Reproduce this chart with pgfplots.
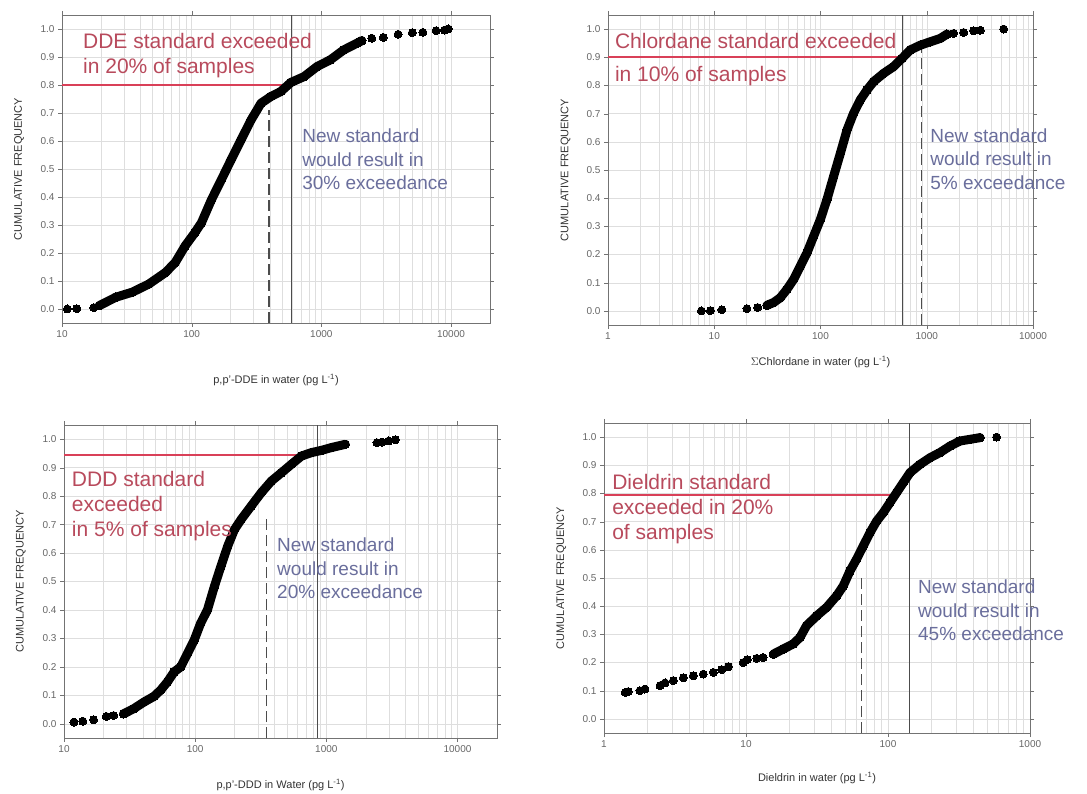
\documentclass[border=0pt]{standalone}
\usepackage{fontspec}
\setmainfont{Liberation Sans}
\usepackage{pgfplots}
\pgfplotsset{compat=1.18}

\definecolor{redline}{HTML}{D94058}
\definecolor{redtext}{HTML}{B84A5C}
\definecolor{bluetext}{HTML}{6A6E9C}

\tikzset{
  redlab/.style={anchor=north west, inner sep=0pt, align=left, text=redtext,
    font=\fontsize{21}{25}\selectfont},
  bluelab/.style={anchor=north west, inner sep=0pt, align=left, text=bluetext,
    font=\fontsize{19}{23.5}\selectfont},
}

\pgfplotsset{
  every axis/.append style={
    scale only axis, anchor=south west, clip=false,
    ymin=-0.05, ymax=1.05,
    ytick={0,0.1,0.2,0.3,0.4,0.5,0.6,0.7,0.8,0.9,1.0},
    yticklabel style={/pgf/number format/.cd, fixed, fixed zerofill, precision=1, assume math mode=true},
    xticklabel style={/pgf/number format/.cd, fixed, 1000 sep={}, assume math mode=true},
    grid=both,
    major grid style={black!13},
    minor grid style={black!13},
    axis line style={black!55, line width=0.9pt},
    tick style={black!55},
    tick align=outside,
    major tick length=4pt, minor tick length=0pt,
    ticklabel style={font=\fontsize{10}{12}\selectfont, text=black!60},
    label style={font=\fontsize{11}{13}\selectfont, text=black!80},
    ylabel={CUMULATIVE FREQUENCY},
    ylabel style={at={(axis description cs:-0.1,0.5)}, anchor=center},
  },
}

\begin{document}
\begin{tikzpicture}
\useasboundingbox (0pt,0pt) rectangle (1087pt,793pt);

% ---- p,p'-DDE ----
\pgfplotstableread{
x y
19.4 0.012
26 0.042
34.8 0.06
46.7 0.089
62.7 0.13
74.7 0.166
89 0.225
106 0.273
119 0.308
142 0.39
170 0.463
202 0.534
241 0.605
288 0.676
343 0.735
409 0.759
488 0.777
582 0.809
736 0.83
929 0.866
1175 0.89
1486 0.925
1879 0.949
2050 0.958
}\ddedense
\begin{axis}[xmode=log, log ticks with fixed point, at={(62pt,470pt)}, width=428pt, height=308pt,
  xmin=10, xmax=20000,
  xlabel={p,p'-DDE in water (pg L\textsuperscript{-1})},
  xlabel style={at={(axis description cs:0.5,-0.185)}, anchor=center}]
\addplot[color=black!70, line width=1pt, no marks] coordinates {(590,-0.05) (590,1.05)};
\addplot[color=black!70, line width=1.3pt, no marks, dash pattern=on 11pt off 5pt] coordinates {(395,-0.05) (395,0.71)};
\addplot[color=redline, line width=2pt, no marks] coordinates {(10,0.8) (560,0.8)};
\addplot[color=black, line width=9pt, line cap=round, line join=round, no marks] table {\ddedense};
\addplot[color=black, only marks, mark=*, mark size=4.3pt, mark options={line width=0pt}] table {\ddedense};
\addplot[color=black, only marks, mark=*, mark size=4pt, mark options={line width=0pt}] coordinates {
 (11,0) (13,0.001) (17.6,0.005)
 (2449,0.967) (3006,0.97) (3911,0.981) (5034,0.987)
 (6070,0.988) (7675,0.994) (8890,0.996) (9540,1.0)};
\node[redlab] at (rel axis cs:0.049,0.94) {DDE standard exceeded\\in 20\% of samples};
\node[bluelab] at (rel axis cs:0.561,0.63) {New standard\\would result in\\30\% exceedance};
\end{axis}

% ---- Chlordane ----
\pgfplotstableread{
x y
31.4 0.02
36.3 0.03
41.9 0.047
48.4 0.077
55.9 0.112
64.6 0.159
74.6 0.206
86.2 0.265
99.6 0.324
115 0.395
133 0.478
154 0.56
178 0.643
205 0.702
237 0.749
274 0.784
317 0.814
393 0.843
488 0.867
585 0.896
700 0.926
871 0.943
1081 0.955
1342 0.967
1550 0.982
}\chldense
\begin{axis}[xmode=log, log ticks with fixed point, at={(608pt,468pt)}, width=425pt, height=310pt,
  xmin=1, xmax=10000,
  xlabel={$\Sigma$Chlordane in water (pg L\textsuperscript{-1})},
  xlabel style={at={(axis description cs:0.5,-0.119)}, anchor=center}]
\addplot[color=black!70, line width=1pt, no marks] coordinates {(590,-0.05) (590,1.05)};
\addplot[color=black!70, line width=1.3pt, no marks, dash pattern=on 11pt off 5pt] coordinates {(890,-0.05) (890,0.94)};
\addplot[color=redline, line width=1.8pt, no marks] coordinates {(1,0.9) (560,0.9)};
\addplot[color=black, line width=9pt, line cap=round, line join=round, no marks] table {\chldense};
\addplot[color=black, only marks, mark=*, mark size=4.3pt, mark options={line width=0pt}] table {\chldense};
\addplot[color=black, only marks, mark=*, mark size=4pt, mark options={line width=0pt}] coordinates {
 (7.56,0) (9.2,0.001) (11.8,0.004) (20.3,0.008) (25.6,0.012)
 (1792,0.985) (2225,0.988) (2766,0.994) (3193,0.996) (5296,1.0)};
\node[redlab] at (rel axis cs:0.016,0.942) {Chlordane standard exceeded};
\node[redlab] at (rel axis cs:0.016,0.835) {in 10\% of samples};
\node[bluelab] at (rel axis cs:0.758,0.635) {New standard\\would result in\\5\% exceedance};
\end{axis}

% ---- p,p'-DDD ----
\pgfplotstableread{
x y
28.5 0.035
34 0.053
40.6 0.076
48.4 0.096
54.5 0.118
61.4 0.147
69 0.182
77.6 0.2
87.4 0.247
98.3 0.294
110 0.353
124 0.4
140 0.482
157 0.553
177 0.624
199 0.682
224 0.718
267 0.765
319 0.812
381 0.853
454 0.882
542 0.912
647 0.941
771 0.953
920 0.961
1099 0.971
1391 0.982
}\ddddense
\begin{axis}[xmode=log, log ticks with fixed point, at={(64pt,55pt)}, width=433pt, height=313pt,
  xmin=10, xmax=20000,
  xlabel={p,p'-DDD in Water (pg L\textsuperscript{-1})},
  xlabel style={at={(axis description cs:0.5,-0.15)}, anchor=center}]
\addplot[color=black!70, line width=1pt, no marks] coordinates {(850,-0.05) (850,1.05)};
\addplot[color=black!70, line width=1.3pt, no marks, dash pattern=on 11pt off 5pt] coordinates {(348,-0.05) (348,0.73)};
\addplot[color=redline, line width=2pt, no marks] coordinates {(10,0.945) (700,0.945)};
\addplot[color=black, line width=9pt, line cap=round, line join=round, no marks] table {\ddddense};
\addplot[color=black, only marks, mark=*, mark size=4.3pt, mark options={line width=0pt}] table {\ddddense};
\addplot[color=black, only marks, mark=*, mark size=4pt, mark options={line width=0pt}] coordinates {
 (11.9,0.006) (13.9,0.009) (16.8,0.014) (21,0.026) (23.9,0.029)
 (2432,0.988) (2650,0.99) (2993,0.994) (3365,0.998)};
\node[redlab] at (rel axis cs:0.018,0.853) {DDD standard\\exceeded\\in 5\% of samples};
\node[bluelab] at (rel axis cs:0.492,0.639) {New standard\\would result in\\20\% exceedance};
\end{axis}

% ---- Dieldrin ----
\pgfplotstableread{
x y
15.6 0.23
18.3 0.248
21.5 0.266
24 0.289
26.7 0.331
31.5 0.366
37 0.396
43.5 0.437
48.4 0.472
54 0.525
60.1 0.567
67 0.614
74.7 0.661
83.2 0.702
92.7 0.732
103 0.767
115 0.803
128 0.838
143 0.874
168 0.903
198 0.927
232 0.945
273 0.968
321 0.986
378 0.992
444 0.998
}\dieldense
\begin{axis}[xmode=log, log ticks with fixed point, at={(604pt,60pt)}, width=426pt, height=310pt,
  xmin=1, xmax=1000,
  xlabel={Dieldrin in water (pg L\textsuperscript{-1})},
  xlabel style={at={(axis description cs:0.5,-0.145)}, anchor=center}]
\addplot[color=black!70, line width=1pt, no marks] coordinates {(141,-0.05) (141,1.05)};
\addplot[color=black!70, line width=1.3pt, no marks, dash pattern=on 11pt off 5pt] coordinates {(65,-0.05) (65,0.51)};
\addplot[color=redline, line width=1.8pt, no marks] coordinates {(1,0.795) (118,0.795)};
\addplot[color=black, line width=9pt, line cap=round, line join=round, no marks] table {\dieldense};
\addplot[color=black, only marks, mark=*, mark size=4.3pt, mark options={line width=0pt}] table {\dieldense};
\addplot[color=black, only marks, mark=*, mark size=4pt, mark options={line width=0pt}] coordinates {
 (1.41,0.094) (1.48,0.097) (1.79,0.1) (1.94,0.106)
 (2.48,0.118) (2.69,0.128) (3.08,0.136) (3.62,0.146) (4.26,0.153) (5.0,0.159)
 (5.89,0.165) (6.74,0.175) (7.51,0.185) (9.57,0.2) (10.2,0.21) (11.9,0.215) (13.2,0.218)
 (582,1.0)};
\node[redlab] at (rel axis cs:0.019,0.835) {Dieldrin standard\\exceeded in 20\%\\of samples};
\node[bluelab] at (rel axis cs:0.737,0.494) {New standard\\would result in\\45\% exceedance};
\end{axis}
\end{tikzpicture}
\end{document}
